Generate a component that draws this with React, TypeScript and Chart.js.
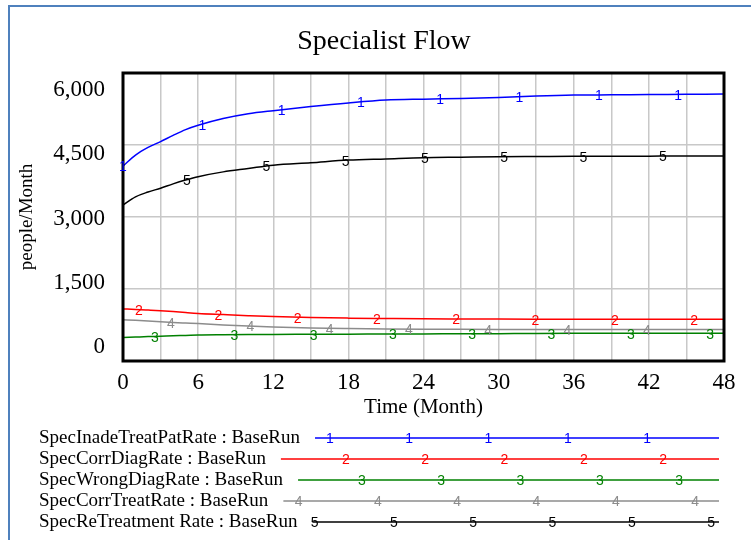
import { useEffect, useRef } from "react";
import { Chart, registerables } from "chart.js";

Chart.register(...registerables);

// Simulation time points (months)
const months = [0, 1, 2, 3, 4, 5, 6, 8, 10, 12, 15, 18, 21, 24, 27, 30, 33, 36, 39, 42, 45, 48];

// people/Month for each flow
const specInadeTreatPatRate = [4060, 4290, 4450, 4570, 4700, 4820, 4910, 5050, 5150, 5215, 5300, 5375, 5435, 5455, 5470, 5490, 5520, 5540, 5545, 5550, 5555, 5560];
const specCorrDiagRate = [1085, 1075, 1062, 1048, 1030, 1010, 992, 968, 945, 925, 905, 893, 885, 878, 875, 873, 872, 871, 870, 870, 870, 870];
const specWrongDiagRate = [488, 498, 508, 516, 525, 532, 540, 546, 550, 553, 556, 559, 562, 565, 567, 570, 574, 576, 578, 579, 580, 580];
const specCorrTreatRate = [860, 848, 834, 818, 802, 790, 779, 750, 728, 710, 690, 677, 667, 662, 660, 658, 657, 656, 655, 655, 655, 655];
const specReTreatmentRate = [3250, 3420, 3520, 3600, 3690, 3770, 3840, 3940, 4010, 4080, 4130, 4185, 4210, 4235, 4245, 4255, 4260, 4265, 4265, 4268, 4270, 4270];

const seriesValues = [specInadeTreatPatRate, specCorrDiagRate, specWrongDiagRate, specCorrTreatRate, specReTreatmentRate];
const seriesLabels = [
  "SpecInadeTreatPatRate : BaseRun",
  "SpecCorrDiagRate : BaseRun",
  "SpecWrongDiagRate : BaseRun",
  "SpecCorrTreatRate : BaseRun",
  "SpecReTreatment Rate : BaseRun",
];
const seriesColors = ["#0000ff", "#ff0000", "#008000", "#8c8c8c", "#000000"];

const yTickValues = [0, 1500, 3000, 4500, 6000];
const xMax = 48;
const yMax = 6000;

const SERIF = '"Liberation Serif", "Times New Roman", serif';
const SANS = '"Liberation Sans", Arial, sans-serif';

// spacing of the numbered markers along each line (px) and per-series shift
const MARK_SPACING = 79.3;
const MARK_SHIFT = 16;

function yAtPixel(pts: any[], x: number): number {
  if (!pts.length) return 0;
  if (x <= pts[0].x) return pts[0].y;
  for (let k = 1; k < pts.length; k++) {
    const p0 = pts[k - 1];
    const p1 = pts[k];
    if (x <= p1.x) {
      const f = (x - p0.x) / (p1.x - p0.x);
      return p0.y + f * (p1.y - p0.y);
    }
  }
  return pts[pts.length - 1].y;
}

const decorPlugin = {
  id: "vensimDecor",
  afterDatasetsDraw(chart: any) {
    const { ctx, chartArea: a } = chart;
    ctx.save();
    // plot frame
    ctx.strokeStyle = "#000";
    ctx.lineWidth = 3;
    ctx.strokeRect(a.left, a.top, a.right - a.left, a.bottom - a.top);

    // numbered markers along the lines
    ctx.font = `14px ${SANS}`;
    ctx.textAlign = "center";
    ctx.textBaseline = "middle";
    chart.data.datasets.forEach((ds: any, i: number) => {
      const pts = chart.getDatasetMeta(i).data;
      ctx.fillStyle = ds.borderColor;
      for (let x = a.left + i * MARK_SHIFT; x <= a.right + 0.5; x += MARK_SPACING) {
        ctx.fillText(String(i + 1), x, yAtPixel(pts, x) + 1.5);
      }
    });
    ctx.restore();
  },
  afterDraw(chart: any) {
    const { ctx, chartArea: a } = chart;
    const yScale = chart.scales.y;
    ctx.save();

    // value axis labels, spread evenly between the frame edges
    ctx.font = `23px ${SERIF}`;
    ctx.fillStyle = "#000";
    ctx.textAlign = "right";
    ctx.textBaseline = "middle";
    const hi = a.top + 17;
    const lo = a.bottom - 14;
    yTickValues.forEach((v) => {
      const f = (v - yScale.min) / (yScale.max - yScale.min);
      ctx.fillText(v.toLocaleString("en-US"), 105, lo - f * (lo - hi));
    });

    // legend
    const rowTop = 438;
    const rowStep = 21;
    const textLeft = 39;
    const lineRight = 719;
    chart.data.datasets.forEach((ds: any, i: number) => {
      const y = rowTop + i * rowStep;
      ctx.font = `19px ${SERIF}`;
      ctx.fillStyle = "#000";
      ctx.textAlign = "left";
      ctx.textBaseline = "middle";
      ctx.fillText(ds.label, textLeft, y);
      const lineLeft = textLeft + ctx.measureText(ds.label).width + 15;
      ctx.strokeStyle = ds.borderColor;
      ctx.lineWidth = 1.5;
      ctx.beginPath();
      ctx.moveTo(lineLeft, y);
      ctx.lineTo(lineRight, y);
      ctx.stroke();
      ctx.font = `14px ${SANS}`;
      ctx.textAlign = "center";
      ctx.fillStyle = ds.borderColor;
      let x = 92 + i * MARK_SHIFT;
      while (x < lineLeft - 3) x += MARK_SPACING;
      for (; x <= lineRight; x += MARK_SPACING) {
        ctx.fillText(String(i + 1), x, y + 1.5);
      }
    });
    ctx.restore();
  },
};

export default function App() {
  const canvasRef = useRef<HTMLCanvasElement | null>(null);

  useEffect(() => {
    if (!canvasRef.current) return;
    const gridColor = "#c8c8c8";
    const chart = new Chart(canvasRef.current, {
      type: "line",
      data: {
        datasets: seriesValues.map((vals, i) => ({
          label: seriesLabels[i],
          data: vals.map((v, k) => ({ x: months[k], y: v })),
          borderColor: seriesColors[i],
          backgroundColor: seriesColors[i],
          borderWidth: 1.5,
          pointRadius: 0,
          cubicInterpolationMode: "monotone" as const,
          fill: false,
        })),
      },
      options: {
        animation: false,
        responsive: true,
        maintainAspectRatio: false,
        layout: { padding: { left: 44, right: 27, top: 0, bottom: 0 } },
        plugins: {
          legend: { display: false },
          tooltip: { enabled: false },
          title: {
            display: true,
            text: "Specialist Flow",
            color: "#000",
            font: { family: SERIF, size: 28, weight: "normal" },
            padding: { top: 25, bottom: 14.4 },
          },
        },
        scales: {
          x: {
            type: "linear",
            min: 0,
            max: xMax,
            border: { display: false },
            grid: { color: gridColor, lineWidth: 1.5, drawTicks: false },
            ticks: {
              stepSize: 3,
              autoSkip: false,
              maxRotation: 0,
              padding: 8,
              color: "#000",
              font: { family: SERIF, size: 23 },
              callback: (v: any) => (Number(v) % 6 === 0 ? String(v) : ""),
            },
            title: {
              display: true,
              text: "Time (Month)",
              color: "#000",
              font: { family: SERIF, size: 21 },
              padding: { top: 0, bottom: 120 },
            },
            afterFit: (s: any) => {
              s.height = 179;
            },
          },
          y: {
            min: 0,
            max: yMax,
            border: { display: false },
            grid: { color: gridColor, lineWidth: 1.5, drawTicks: false },
            ticks: { stepSize: 1500, display: false },
            title: {
              display: true,
              text: "people/Month",
              color: "#000",
              font: { family: SERIF, size: 19 },
              padding: { top: -28.4, bottom: 0 },
            },
            afterFit: (s: any) => {
              s.width = 79;
            },
          },
        },
      },
      plugins: [decorPlugin],
    });
    return () => chart.destroy();
  }, []);

  return (
    <div style={{ position: "absolute", left: 0, top: 0, width: 751, height: 540, overflow: "hidden", background: "#fff" }}>
      <div
        style={{
          position: "absolute",
          left: 8,
          top: 5,
          right: 0,
          bottom: 0,
          borderLeft: "2px solid #4f81bd",
          borderTop: "2px solid #4f81bd",
        }}
      />
      <div style={{ position: "absolute", left: 0, top: 0, width: 751, height: 540 }}>
        <canvas ref={canvasRef} />
      </div>
    </div>
  );
}
